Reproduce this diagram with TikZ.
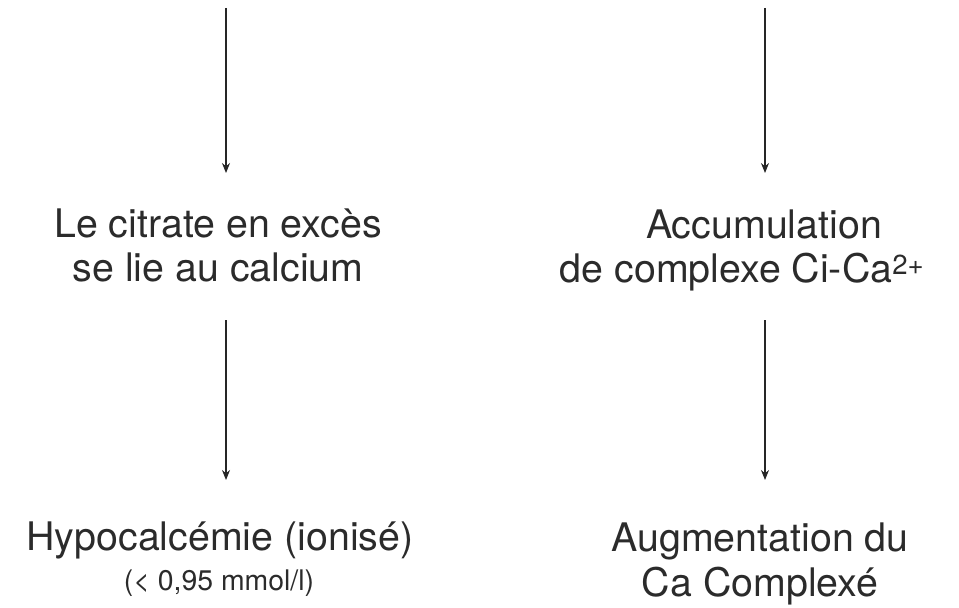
\documentclass[tikz,border=0pt]{standalone}
\usepackage{fontspec}
\setmainfont{TeX Gyre Heros}
\usetikzlibrary{arrows.meta, positioning}
\definecolor{txt}{HTML}{2B2B2B}

\begin{document}
\begin{tikzpicture}[x=1bp, y=-1bp,
    lbl/.style={align=center, text=txt, inner sep=0pt, font=\fontsize{39.5}{44.5}\selectfont},
    small/.style={text=txt, inner sep=0pt, font=\fontsize{28.5}{30}\selectfont},
    flow/.style={draw=black!85, line width=1.1pt, -{Stealth[length=10bp, width=8bp]}}]
    \useasboundingbox (0,0) rectangle (959,608);
    % colonne gauche
    \coordinate (ltop) at (226,8);
    \node[lbl, anchor=base] (citrate) at (218,282) {Le citrate en excès\\se lie au calcium};
    \node[lbl, anchor=base] (hypo) at (220,550) {Hypocalcémie (ionisé)};
    \node[small, anchor=base] (seuil) at (219,590) {(< 0,95 mmol/l)};
    \draw[flow] (ltop) -- (ltop |- 0,173);
    \draw[flow] (ltop |- 0,320) -- (ltop |- 0,480);
    % colonne droite
    \coordinate (rtop) at (765,8);
    \node[lbl, anchor=base] (accum) at (742,283) {\hspace*{44bp}Accumulation\\de complexe Ci-Ca\textsuperscript{2+}};
    \node[lbl, anchor=base] (augm) at (760,596) {Augmentation du\\Ca Complexé};
    \draw[flow] (rtop) -- (rtop |- 0,173);
    \draw[flow] (rtop |- 0,320) -- (rtop |- 0,480);
\end{tikzpicture}
\end{document}
